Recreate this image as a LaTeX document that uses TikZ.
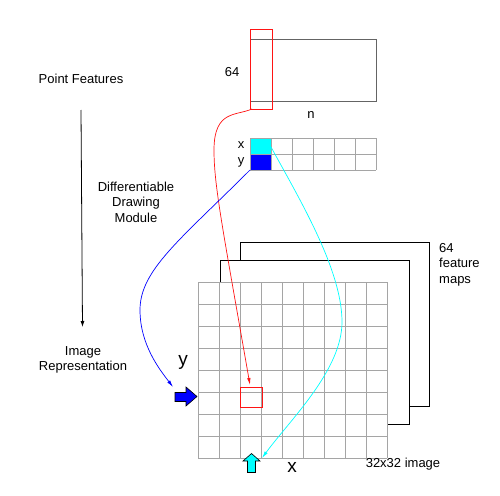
\documentclass[tikz,border=0pt]{standalone}
\usepackage{fontspec}
\setmainfont{Liberation Sans}
\usetikzlibrary{arrows.meta}
\definecolor{gridgray}{RGB}{165,165,165}
\definecolor{matgray}{RGB}{100,100,100}
\definecolor{myred}{RGB}{255,20,20}
\definecolor{mycyan}{RGB}{0,255,255}
\definecolor{myblue}{RGB}{0,0,255}
\begin{document}
\begin{tikzpicture}[x=1pt,y=-1pt,
  lbl/.style={font=\fontsize{13}{15.5}\selectfont, align=center, inner sep=0pt},
  biglbl/.style={font=\fontsize{19}{21}\selectfont, inner sep=0pt},
  box/.style={inner sep=0pt, outer sep=0pt, anchor=north west},
  gridline/.style={draw=gridgray, line width=0.8pt},
  sheet/.style={box, draw=black, fill=white, line width=0.8pt, minimum width=189pt, minimum height=164pt},
  curvearrow/.style={line width=0.7pt, -{Latex[length=7pt,width=3.5pt]}}
]
\useasboundingbox (0,0) rectangle (500,495);

% left column
\node[lbl] (pf) at (81,79) {Point Features};
\coordinate (a1) at (81,110);
\coordinate (a2) at (82.5,327);
\draw[line width=0.8pt, -{Latex[length=6pt,width=4pt]}] (a1) -- (a2);
\node[lbl] (ddm) at (136,202) {Differentiable\\Drawing\\Module};
\node[lbl] (ir) at (83,360) {Image\\Representation};

% top matrix
\node[box, draw=matgray, line width=0.8pt, minimum width=126pt, minimum height=62pt] (mat) at (250,39) {};
\node[lbl] (l64) at (232,72) {64};
\node[lbl] (ln) at (311,115) {n};

% small point grid
\fill[mycyan] (250,138) rectangle (271,154);
\fill[myblue] (250,154) rectangle (271,170);
\foreach \i in {0,...,6} \draw[gridline] ({250+21*\i},138) -- ({250+21*\i},170);
\foreach \j in {0,1,2} \draw[gridline] (250,{138+16*\j}) -- (376,{138+16*\j});
\node[lbl] (px) at (241,145) {x};
\node[lbl] (py) at (241,162) {y};
\coordinate (cyanpt) at (271,147);
\coordinate (bluept) at (250,170);

% sheets behind
\node[sheet] (sheet2) at (240,242) {};
\node[sheet] (sheet1) at (220,260) {};
\node[lbl, align=left, anchor=north west] (fm) at (439,243) {64\\feature\\maps};

% big image grid
\node[box, fill=white, minimum width=189pt, minimum height=176pt] (img) at (198,282) {};
\foreach \i in {0,...,9} \draw[gridline] ({198+21*\i},282) -- ({198+21*\i},458);
\foreach \j in {0,...,8} \draw[gridline] (198,{282+22*\j}) -- (387,{282+22*\j});
\node[lbl, anchor=center] (cap) at (403,464) {32x32 image};

% red highlight boxes
\node[box, draw=myred, line width=0.8pt, minimum width=22pt, minimum height=80pt] (redcol) at (250,29) {};
\node[box, draw=myred, line width=0.8pt, minimum width=22pt, minimum height=20pt] (redcell) at (240,387) {};

% big arrows
\draw[fill=myblue, line width=0.6pt] (175,392.5) -- (186,392.5) -- (186,387) -- (197,396.5) -- (186,406) -- (186,401.5) -- (175,401.5) -- cycle;
\coordinate (bluearrow) at (175,396.5);
\draw[fill=mycyan, line width=0.6pt] (251.5,453.5) -- (260,461) -- (255.5,461) -- (255.5,472.5) -- (247.5,472.5) -- (247.5,461) -- (243,461) -- cycle;
\node[biglbl] (by) at (183,362) {y};
\node[biglbl] (bx) at (292,467) {x};

% curves
\coordinate (redstart) at ([xshift=2pt]redcol.south west);
\coordinate (redtip) at (250,385);
\coordinate (bluetip) at (173,387);
\coordinate (cyantip) at (262,458);
\draw[curvearrow, myred] (redstart) .. controls (236,116) and (214,110) .. (214,150) .. controls (214,185) and (222,225) .. (redtip);
\draw[curvearrow, myblue] (bluept) .. controls (180,240) and (140,270) .. (140,310) .. controls (140,345) and (160,370) .. (bluetip);
\draw[curvearrow, mycyan] (cyanpt) .. controls (300,200) and (342,270) .. (342,322) .. controls (342,370) and (290,420) .. (cyantip);
\end{tikzpicture}
\end{document}
